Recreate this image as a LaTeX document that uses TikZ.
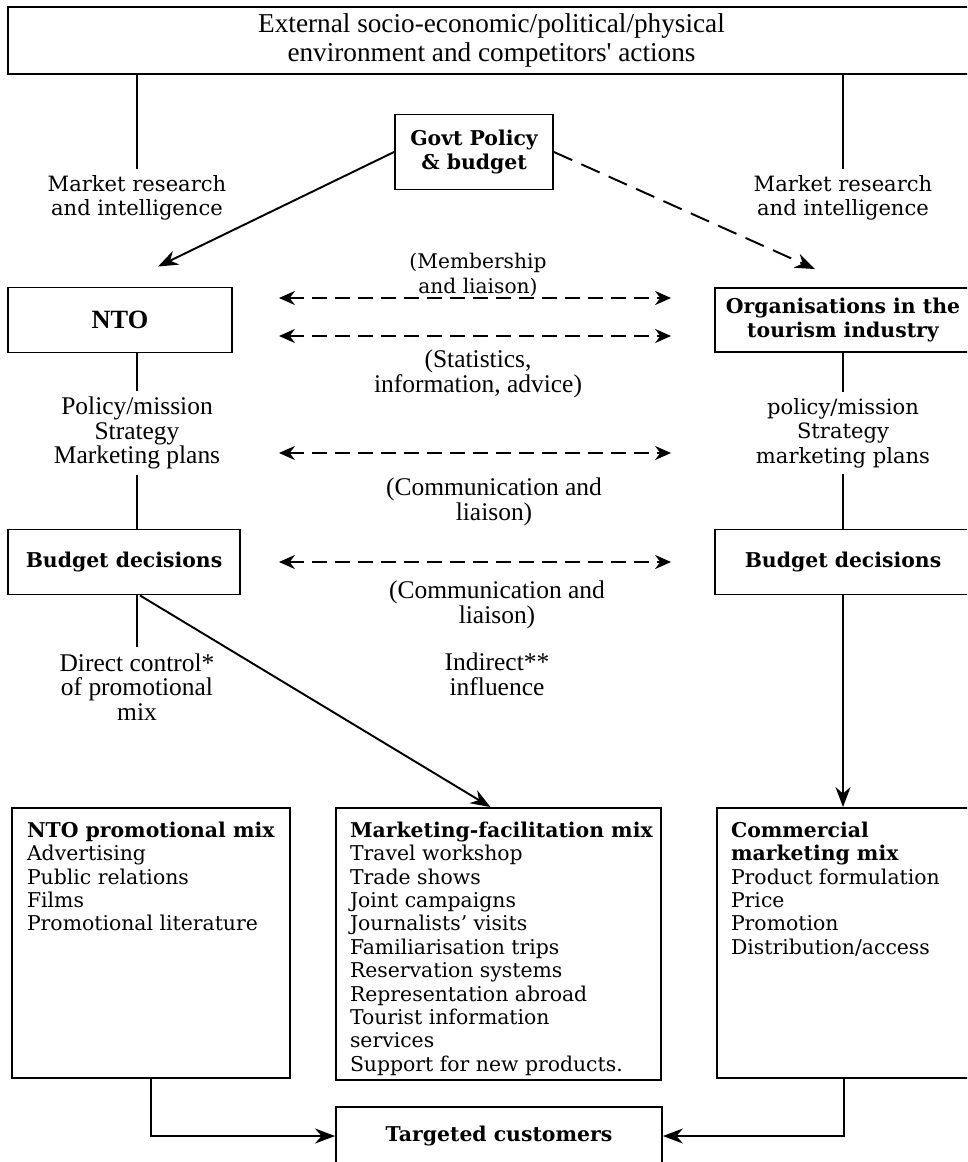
\documentclass[tikz,border=0pt]{standalone}
\usepackage{fontspec}
\setmainfont{DejaVu Serif}
\newfontfamily\condfont{Liberation Serif}
\usetikzlibrary{arrows.meta,positioning,calc}

\begin{document}
\begin{tikzpicture}[x=0.02cm, y=-0.02cm, line width=1.1pt,
  box/.style={draw, align=center, font=\fontsize{11.6}{14}\selectfont\bfseries, inner sep=0pt},
  lab/.style={align=center, font=\fontsize{12}{14}\selectfont, inner sep=3pt},
  clab/.style={align=center, font=\condfont\fontsize{14.5}{14}\selectfont, inner sep=3pt},
  list/.style={align=left, anchor=north west, font=\fontsize{11.6}{13.3}\selectfont, inner sep=0pt},
  arr/.style={-{Stealth[length=4mm,width=3mm]}},
  link/.style={{Stealth[length=3.2mm,width=2.8mm]}-{Stealth[length=3.2mm,width=2.8mm]}, dash pattern=on 0.3cm off 0.16cm, shorten <=0.92cm, shorten >=0.86cm},
]
\useasboundingbox (0,0) rectangle (967,1162);
\clip (0,0) rectangle (967,1162);
\node[box, font=\condfont\fontsize{15.5}{17}\selectfont, minimum width=19.34cm, minimum height=1.34cm] (env) at (491.5,40.5) {External socio-economic/political/physical\\environment and competitors' actions};
\node[box, minimum width=3.16cm, minimum height=1.5cm] (govt) at (474,152) {Govt Policy\\\& budget};
\node[box, font=\condfont\fontsize{15}{17}\selectfont\bfseries, minimum width=4.48cm, minimum height=1.3cm] (nto) at (120,320) {NTO};
\node[box, minimum width=5.12cm, minimum height=1.28cm] (org) at (843,320) {Organisations in the\\tourism industry};
\node[box, minimum width=4.64cm, minimum height=1.3cm] (budl) at (124,562) {Budget\ decisions};
\node[box, minimum width=5.12cm, minimum height=1.3cm] (budr) at (843,562) {Budget\ decisions};
\node[box, minimum width=5.56cm, minimum height=5.4cm] (npm) at (151,943) {};
\node[list, below right=0.28cm and 0.3cm of npm.north west] (npmtext) {\textbf{NTO promotional mix}\\Advertising\\Public relations\\Films\\Promotional literature};
\node[box, minimum width=6.5cm, minimum height=5.44cm] (mfm) at (498.5,944) {};
\node[list, below right=0.28cm and 0.28cm of mfm.north west] (mfmtext) {\textbf{Marketing-facilitation mix}\\Travel workshop\\Trade shows\\Joint campaigns\\Journalists' visits\\Familiarisation trips\\Reservation systems\\Representation abroad\\Tourist information\\services\\Support for new products.};
\node[box, minimum width=5.08cm, minimum height=5.4cm] (cmm) at (844,943) {};
\node[list, below right=0.28cm and 0.28cm of cmm.north west] (cmmtext) {\textbf{Commercial}\\\textbf{marketing mix}\\Product formulation\\Price\\Promotion\\Distribution/access};
\node[box, minimum width=6.52cm, minimum height=1.16cm] (cust) at (499,1136) {Targeted customers};
\node[lab] (mrl) at (137,198) {Market research\\and intelligence};
\node[lab] (mrr) at (843,198) {Market research\\and intelligence};
\node[lab, font=\fontsize{11.5}{14}\selectfont] (memb) at (478,275) {(Membership\\and liaison)};
\node[clab] (stat) at (478,374) {(Statistics,\\information, advice)};
\node[clab] (planl) at (137,433) {Policy/mission\\Strategy\\Marketing plans};
\node[lab] (planr) at (843,433) {policy/mission\\Strategy\\marketing plans};
\node[clab] (comm1) at (494,502) {(Communication and\\liaison)};
\node[clab] (comm2) at (497,605) {(Communication and\\liaison)};
\node[clab] (ctrl) at (137,687) {Direct control*\\of promotional\\mix};
\node[clab] (indir) at (497,674) {Indirect**\\influence};
\coordinate (planlink) at (0,453);
\draw (env.south -| mrl) -- (mrl.north);
\draw (env.south -| mrr) -- (mrr.north);
\draw[arr] (govt.west) -- ([xshift=0.76cm,yshift=0.4cm]nto.north);
\draw[arr, dash pattern=on 0.4cm off 0.2cm] (govt.east) -- ([xshift=-0.56cm,yshift=0.36cm]org.north);
\draw[link] ([yshift=0.44cm]nto.east) -- ([yshift=0.44cm]org.west);
\draw[link] ([yshift=-0.32cm]nto.east) -- ([yshift=-0.32cm]org.west);
\draw (nto.south -| planl) -- (planl.north);
\draw (org.south) -- (planr.north);
\draw[link] (nto.east |- planlink) -- (org.west |- planlink);
\draw (planl.south) -- (planl.south |- budl.north);
\draw (planr.south) -- (budr.north);
\draw[link] (nto.east |- budl) -- (org.west |- budr);
\draw (budl.south -| ctrl) -- (ctrl.north);
\draw[arr] ([xshift=0.32cm]budl.south) -- ([xshift=-0.16cm]mfm.north);
\draw[arr] (budr.south) -- (cmm.north -| budr.south);
\draw[arr] (npm.south) |- (cust.west);
\draw[arr] (cmm.south) |- (cust.east);
\end{tikzpicture}
\end{document}
